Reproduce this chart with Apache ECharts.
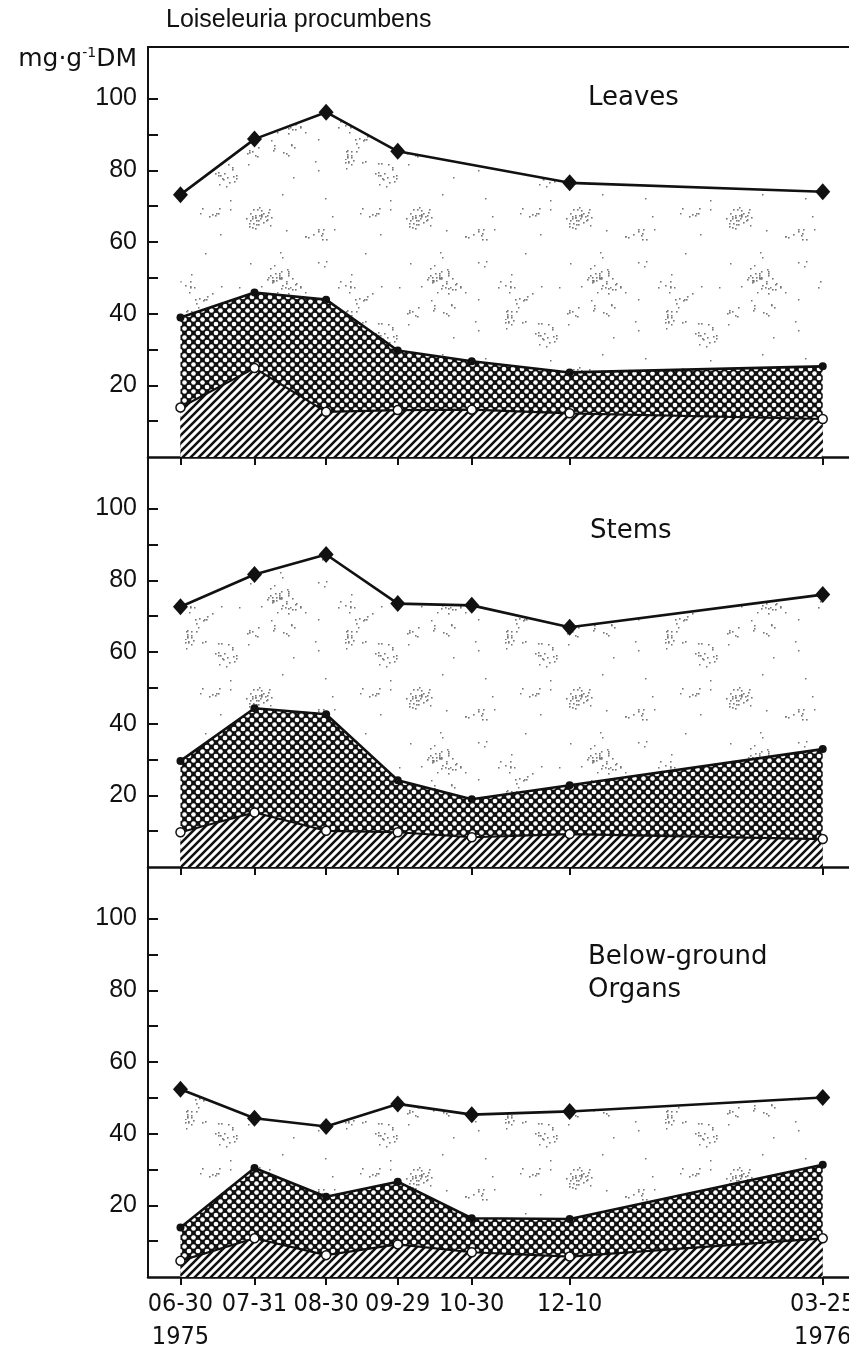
<!DOCTYPE html>
<html>
<head>
  <meta charset="UTF-8">
  <title>Loiseleuria procumbens</title>
  <script src="https://cdn.jsdelivr.net/npm/echarts@6/dist/echarts.min.js"></script>
  <style>
    html, body { margin: 0; padding: 0; background: #fff; }
  </style>
</head>
<body>
  <div id="chart" style="width:849px; height:1353px;"></div>
  <script>
    // sampling dates and tick labels
    var sampleDates = ['1975-06-30', '1975-07-31', '1975-08-30', '1975-09-29', '1975-10-30', '1975-12-10', '1976-03-25'];
    var tickLabels = ['06-30\n1975', '07-31', '08-30', '09-29', '10-30', '12-10', '03-25\n1976'];
    var panelNames = ['Leaves', 'Stems', 'Below-ground\nOrgans'];

    // mg/g DM (cumulative curves)
    var leavesTop = [73.2, 88.7, 96.2, 85.3, null, 76.5, 74.0];
    var leavesMid = [38.9, 45.9, 43.9, 29.7, 26.7, 23.6, 25.3];
    var leavesLow = [13.8, 24.8, 12.6, 13.1, 13.2, 12.2, 10.6];

    var stemsTop = [72.6, 81.6, 87.2, 73.5, 73.0, 66.9, 76.0];
    var stemsMid = [29.6, 44.3, 42.6, 24.2, 18.9, 22.8, 32.9];
    var stemsLow = [9.7, 15.2, 10.1, 9.7, 8.3, 9.2, 7.8];

    var rootsTop = [52.4, 44.3, 42.0, 48.3, 45.3, 46.2, 50.1];
    var rootsMid = [13.8, 30.4, 22.4, 26.6, 16.4, 16.2, 31.3];
    var rootsLow = [4.5, 10.8, 6.1, 9.1, 6.9, 5.7, 10.8];

    var yTicks = [10, 20, 30, 40, 50, 60, 70, 80, 90, 100];
    var yLabels = [20, 40, 60, 80, 100];

    // day offsets from the first sampling
    function dayNum(s) {
      var p = s.split('-');
      return Date.UTC(+p[0], +p[1] - 1, +p[2]) / 86400000;
    }
    var day0 = dayNum(sampleDates[0]);
    var days = sampleDates.map(function (d) { return dayNum(d) - day0; });

    // fill patterns
    function makeTile(w, h, draw) {
      var c = document.createElement('canvas');
      c.width = w; c.height = h;
      var ctx = c.getContext('2d');
      draw(ctx, w, h);
      return c;
    }
    function hash(n) {
      var t = (n * 2654435761) >>> 0;
      t = Math.imul(t ^ (t >>> 15), t | 1);
      t ^= t + Math.imul(t ^ (t >>> 7), t | 61);
      return ((t ^ (t >>> 14)) >>> 0) / 4294967296;
    }
    var hatch = makeTile(8, 8, function (ctx, w, h) {
      ctx.fillStyle = '#fff'; ctx.fillRect(0, 0, w, h);
      ctx.strokeStyle = '#111'; ctx.lineWidth = 2.6;
      ctx.beginPath();
      ctx.moveTo(-2, h + 2); ctx.lineTo(w + 2, -2);
      ctx.moveTo(-2, 2); ctx.lineTo(2, -2);
      ctx.moveTo(w - 2, h + 2); ctx.lineTo(w + 2, h - 2);
      ctx.stroke();
    });
    var cross = makeTile(9, 9, function (ctx, w, h) {
      ctx.fillStyle = '#111'; ctx.fillRect(0, 0, w, h);
      ctx.fillStyle = '#fff';
      [[0, 0], [w, 0], [0, h], [w, h], [w / 2, h / 2]].forEach(function (p) {
        ctx.beginPath(); ctx.arc(p[0], p[1], 2.3, 0, Math.PI * 2); ctx.fill();
      });
    });
    var stipple = makeTile(160, 160, function (ctx, w, h) {
      ctx.fillStyle = '#fff'; ctx.fillRect(0, 0, w, h);
      ctx.fillStyle = '#777';
      // loose clusters of grey dots
      for (var c = 0; c < 14; c++) {
        var cx = hash(c * 7 + 1) * w, cy = hash(c * 7 + 2) * h;
        var n = 6 + Math.floor(hash(c * 7 + 3) * 14);
        for (var i = 0; i < n; i++) {
          var x = (cx + (hash(c * 131 + i * 3 + 11) - 0.5) * 22 + w) % w;
          var y = (cy + (hash(c * 131 + i * 3 + 12) - 0.5) * 12 + h) % h;
          ctx.fillRect(Math.round(x), Math.round(y), 1.6, 1.6);
        }
      }
      for (var j = 0; j < 40; j++) {
        ctx.fillRect(Math.round(hash(900 + j * 2) * w), Math.round(hash(901 + j * 2) * h), 1.5, 1.5);
      }
    });

    var panels = [
      [leavesTop, leavesMid, leavesLow],
      [stemsTop, stemsMid, stemsLow],
      [rootsTop, rootsMid, rootsLow]
    ];
    var gridTops = [47, 457, 867];
    var xMin = -13.6, xMax = 280;

    var grids = [], xAxes = [], yAxes = [], series = [];
    var axisFont = 'Liberation Sans, Arial, sans-serif';

    panels.forEach(function (p, k) {
      grids.push({ left: 148, right: 0, top: gridTops[k], height: 410, outerBoundsMode: 'none', containLabel: false });
      xAxes.push({
        type: 'value', gridIndex: k, min: xMin, max: xMax,
        axisLine: { lineStyle: { color: '#111', width: 2.5 } },
        axisTick: { customValues: days, length: 8, lineStyle: { color: '#111', width: 2 } },
        splitLine: { show: false },
        axisLabel: k < 2 ? { show: false } : {
          customValues: days, margin: 11, color: '#111', fontSize: 25, lineHeight: 33,
          fontFamily: 'Liberation Sans Narrow, DejaVu Sans Condensed, Arial Narrow, Liberation Sans, sans-serif',
          formatter: function (v) { return tickLabels[days.indexOf(v)]; }
        }
      });
      yAxes.push({
        type: 'value', gridIndex: k, min: 0, max: 114.4,
        axisLine: { show: true, onZero: false, lineStyle: { color: '#111', width: 2 } },
        axisTick: { inside: true, customValues: yTicks, length: 10, lineStyle: { color: '#111', width: 2 } },
        splitLine: { show: false },
        axisLabel: { customValues: yLabels, margin: 11, color: '#111', fontSize: 25, fontFamily: axisFont }
      });
      function pts(arr) { return arr.map(function (v, i) { return [days[i], v]; }); }
      series.push({
        type: 'line', xAxisIndex: k, yAxisIndex: k, data: pts(p[0]), connectNulls: true,
        symbol: 'diamond', symbolSize: [15, 17],
        itemStyle: { color: '#111' },
        lineStyle: { color: '#111', width: 2.6 },
        areaStyle: { color: { image: stipple, repeat: 'repeat' }, opacity: 1 }
      });
      series.push({
        type: 'line', xAxisIndex: k, yAxisIndex: k, data: pts(p[1]),
        symbol: 'circle', symbolSize: 8,
        itemStyle: { color: '#111' },
        lineStyle: { color: '#111', width: 2.6 },
        areaStyle: { color: { image: cross, repeat: 'repeat' }, opacity: 1 }
      });
      series.push({
        type: 'line', xAxisIndex: k, yAxisIndex: k, data: pts(p[2]),
        symbol: 'circle', symbolSize: 9,
        itemStyle: { color: '#fff', borderColor: '#111', borderWidth: 1.5 },
        lineStyle: { color: '#111', width: 2.2 },
        areaStyle: { color: { image: hatch, repeat: 'repeat' }, opacity: 1 }
      });
    });

    // top frame line of the first panel
    xAxes.push({
      type: 'value', gridIndex: 0, position: 'top', min: xMin, max: xMax,
      axisLine: { onZero: false, lineStyle: { color: '#111', width: 2 } },
      axisTick: { show: false }, axisLabel: { show: false }, splitLine: { show: false }
    });

    var labelFont = 'DejaVu Sans, sans-serif';
    var chart = echarts.init(document.getElementById('chart'), null, { renderer: 'canvas' });
    chart.setOption({
      backgroundColor: '#fff',
      animation: false,
      grid: grids,
      xAxis: xAxes,
      yAxis: yAxes,
      series: series,
      graphic: [
        { type: 'text', left: 166, top: 8, style: { text: 'Loiseleuria procumbens', fontSize: 25, fontFamily: axisFont, fill: '#111' } },
        {
          type: 'text', x: 137, y: 72,
          style: {
            text: '{a|mg·g}{s|-1}{a|DM}', align: 'right', verticalAlign: 'bottom', fill: '#111',
            rich: {
              a: { fontSize: 25, fontFamily: labelFont, fill: '#111' },
              s: { fontSize: 14, fontFamily: labelFont, fill: '#111', verticalAlign: 'top', padding: [0, 0, 12, 0] }
            }
          }
        },
        { type: 'text', left: 588, top: 85, style: { text: panelNames[0], fontSize: 26, fontFamily: labelFont, fill: '#111' } },
        { type: 'text', left: 590, top: 518, style: { text: panelNames[1], fontSize: 26, fontFamily: labelFont, fill: '#111' } },
        { type: 'text', left: 588, top: 941, style: { text: panelNames[2], fontSize: 26, lineHeight: 33, fontFamily: labelFont, fill: '#111' } }
      ]
    });
  </script>
</body>
</html>
